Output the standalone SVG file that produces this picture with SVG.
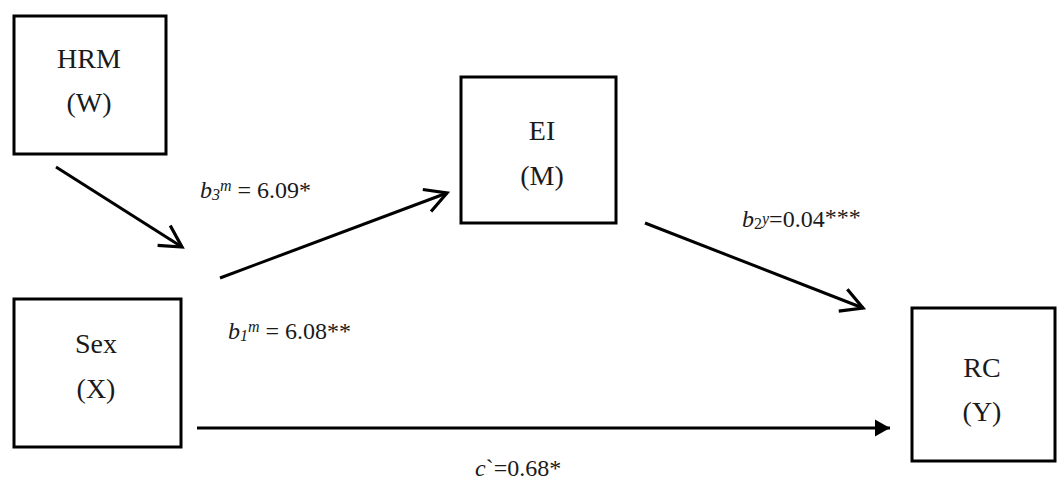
<svg xmlns="http://www.w3.org/2000/svg" width="1059" height="479" viewBox="0 0 1059 479">
<defs>
<style>
text{font-family:'Liberation Serif','Times New Roman','DejaVu Serif',serif}
.box{fill:#fff;stroke:#000;stroke-width:3}
.lbl{font-size:28px;fill:#1a1a1a;text-anchor:middle}
.coef{font-size:24px;fill:#1a1a1a}
.it{font-style:italic}
.sm{font-size:16px}
.edge{stroke:#000;stroke-width:3;fill:none}
</style>
<marker id="open" markerUnits="userSpaceOnUse" markerWidth="30" markerHeight="30" viewBox="-24 -14 28 28" refX="0" refY="0" orient="auto">
<path d="M-20,-11 L0,0 L-20,11" fill="none" stroke="#000" stroke-width="3"/>
</marker>
<marker id="solid" markerUnits="userSpaceOnUse" markerWidth="20" markerHeight="20" viewBox="-16 -10 18 20" refX="0" refY="0" orient="auto">
<path d="M-15,-8.5 L0,0 L-15,8.5 Z" fill="#000"/>
</marker>
</defs>
<rect width="1059" height="479" fill="#fff"/>
<g id="connectors">
<line class="edge" x1="56" y1="167" x2="182" y2="247" marker-end="url(#open)"/>
<line class="edge" x1="220" y1="278" x2="447" y2="193" marker-end="url(#open)"/>
<line class="edge" x1="645" y1="223" x2="863" y2="308" marker-end="url(#open)"/>
<line class="edge" x1="197" y1="428" x2="890" y2="428" marker-end="url(#solid)"/>
</g>
<g id="node-hrm">
<rect class="box" x="14" y="16" width="152" height="138"/>
<text class="lbl" x="89" y="68" font-family="Liberation Serif, serif">HRM</text>
<text class="lbl" x="89" y="112" font-family="Liberation Serif, serif">(W)</text>
</g>
<g id="node-ei">
<rect class="box" x="461" y="77" width="155" height="146"/>
<text class="lbl" x="542" y="140" font-family="Liberation Serif, serif">EI</text>
<text class="lbl" x="542" y="185" font-family="Liberation Serif, serif">(M)</text>
</g>
<g id="node-sex">
<rect class="box" x="14" y="299" width="167" height="148"/>
<text class="lbl" x="96" y="353" font-family="Liberation Serif, serif">Sex</text>
<text class="lbl" x="96" y="398" font-family="Liberation Serif, serif">(X)</text>
</g>
<g id="node-rc">
<rect class="box" x="912" y="308" width="143" height="153"/>
<text class="lbl" x="982" y="377" font-family="Liberation Serif, serif">RC</text>
<text class="lbl" x="982" y="421" font-family="Liberation Serif, serif">(Y)</text>
</g>
<g id="labels">
<text class="coef" x="200" y="198" font-family="Liberation Serif, serif"><tspan class="it">b</tspan><tspan class="sm it" dy="2">3</tspan><tspan class="sm it" dy="-9">m</tspan><tspan dy="7"> = 6.09*</tspan></text>
<text class="coef" x="228" y="339" font-family="Liberation Serif, serif"><tspan class="it">b</tspan><tspan class="sm it" dy="2">1</tspan><tspan class="sm it" dy="-9">m</tspan><tspan dy="7"> = 6.08**</tspan></text>
<text class="coef" x="742" y="227" font-family="Liberation Serif, serif"><tspan class="it">b</tspan><tspan class="sm" dy="2">2</tspan><tspan class="sm it" dy="-5">y</tspan><tspan dy="3">=0.04</tspan><tspan dy="-2">***</tspan></text>
<text class="coef" x="475" y="476" font-family="Liberation Serif, serif"><tspan class="it">c</tspan><tspan>`=0.68*</tspan></text>
</g>
</svg>
